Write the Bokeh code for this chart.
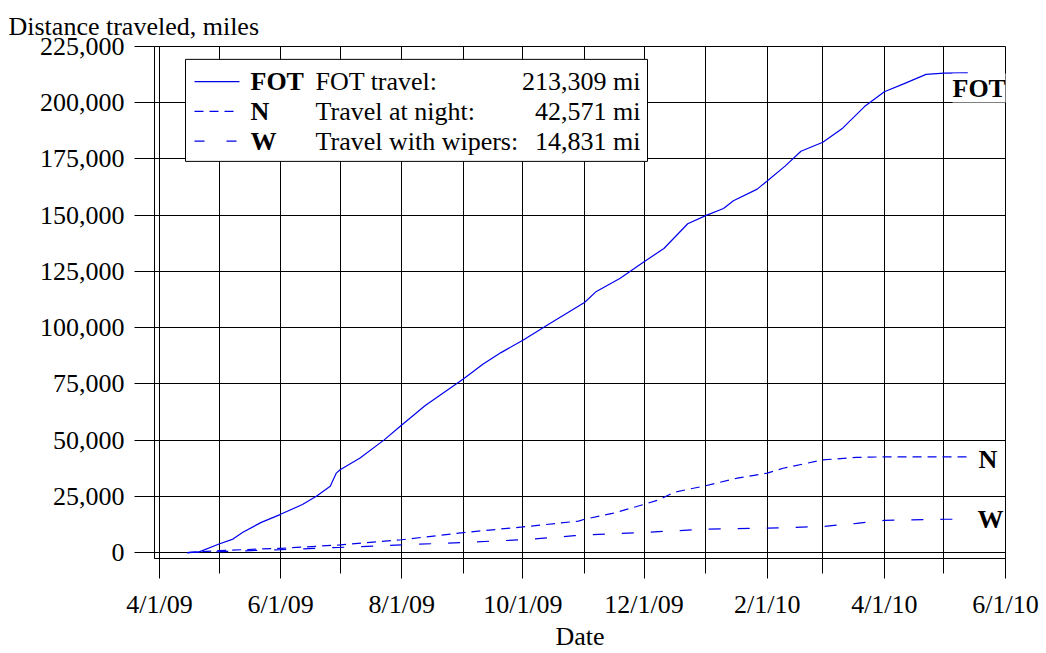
import pandas as pd
from bokeh.plotting import figure
from bokeh.models import FixedTicker, NumeralTickFormatter, Label, BoxAnnotation, Range1d
from bokeh.embed import file_html
from bokeh.resources import INLINE

# ---------------- data ----------------
fot_dates = ["2009-04-15", "2009-04-21", "2009-05-01", "2009-05-08", "2009-05-13", "2009-05-22",
             "2009-06-01", "2009-06-12", "2009-06-19", "2009-06-26", "2009-06-29", "2009-07-01",
             "2009-07-11", "2009-07-23", "2009-08-01", "2009-08-13", "2009-09-01", "2009-09-11",
             "2009-09-20", "2009-10-01", "2009-10-15", "2009-11-01", "2009-11-07", "2009-11-19",
             "2009-12-01", "2009-12-11", "2009-12-23", "2010-01-01", "2010-01-10", "2010-01-15",
             "2010-01-27", "2010-02-01", "2010-02-10", "2010-02-18", "2010-03-01", "2010-03-11",
             "2010-03-22", "2010-04-01", "2010-04-11", "2010-04-22", "2010-05-01", "2010-05-13"]
fot_miles = [0, 300, 3800, 6000, 9000, 13300,
             17000, 21400, 25000, 29500, 35300, 36800,
             42000, 50000, 56700, 65500, 77200, 83800,
             88900, 94400, 102100, 111200, 116100, 122000,
             129300, 135200, 146200, 149800, 153000, 156400,
             161600, 165200, 171800, 178400, 182400, 188700,
             198300, 204900, 208500, 212600, 213200, 213309]

night_dates = ["2009-04-15", "2009-05-01", "2009-06-01", "2009-07-01", "2009-08-01", "2009-09-01",
               "2009-10-01", "2009-10-29", "2009-11-01", "2009-11-15", "2009-12-01", "2009-12-09",
               "2009-12-16", "2010-01-01", "2010-01-17", "2010-02-01", "2010-02-09", "2010-03-01",
               "2010-03-18", "2010-04-01", "2010-05-13"]
night_miles = [0, 900, 1900, 3400, 5700, 8900,
               11400, 14000, 14800, 17400, 21400, 23600,
               26800, 29700, 33100, 35300, 37500, 41200,
               42300, 42550, 42571]

wiper_dates = ["2009-04-15", "2009-05-01", "2009-06-01", "2009-07-01", "2009-08-01", "2009-09-01",
               "2009-10-01", "2009-10-27", "2009-11-01", "2009-12-01", "2010-01-01", "2010-02-01",
               "2010-03-01", "2010-03-18", "2010-04-01", "2010-05-01", "2010-05-13"]
wiper_miles = [0, 400, 1300, 2300, 3400, 4500,
               5700, 7500, 7800, 8950, 10400, 10850,
               11600, 13000, 14300, 14800, 14831]

major_tick_dates = ["2009-04-01", "2009-06-01", "2009-08-01", "2009-10-01",
                    "2009-12-01", "2010-02-01", "2010-04-01", "2010-06-01"]
major_tick_labels = ["4/1/09", "6/1/09", "8/1/09", "10/1/09",
                     "12/1/09", "2/1/10", "4/1/10", "6/1/10"]
minor_tick_dates = ["2009-05-01", "2009-07-01", "2009-09-01", "2009-11-01",
                    "2010-01-01", "2010-03-01", "2010-05-01"]
y_ticks = [0, 25000, 50000, 75000, 100000, 125000, 150000, 175000, 200000, 225000]

legend_keys = ["FOT", "N", "W"]
legend_texts = ["FOT travel:", "Travel at night:", "Travel with wipers:"]
legend_values = ["213,309 mi", "42,571 mi", "14,831 mi"]

# ---------------- helpers ----------------
def ms(d):
    return pd.Timestamp(d).value / 1e6

X0 = ms("2009-03-29 12:00")
X1 = ms("2010-06-01")
Y0, Y1 = -2640, 225000
FL, FR, FT, FB = 154, 1005, 46, 563  # frame in page pixels

def X(px):
    return X0 + (px - FL) * (X1 - X0) / (FR - FL)

def Y(py):
    return Y1 - (py - FT) * (Y1 - Y0) / (FB - FT)

FONT = "Liberation Serif"
FS = "26px"
BLUE = "#0000ee"
LW = 1.2

p = figure(width=1046, height=653, x_axis_type="datetime",
           x_range=Range1d(X0, X1), y_range=Range1d(Y0, Y1),
           output_backend="svg", toolbar_location=None,
           min_border_left=154, min_border_right=41, min_border_top=46, min_border_bottom=90)
p.background_fill_color = "white"
p.border_fill_color = "white"
p.outline_line_color = "black"
p.outline_line_width = 1

# title (y-axis caption at top-left)
p.title.text = "Distance traveled, miles"
p.title.text_font = FONT
p.title.text_font_size = FS
p.title.text_font_style = "normal"
p.title.text_color = "black"
p.title.align = "left"
p.title.vertical_align = "top"
p.title.text_line_height = 0.5
p.title.offset = -146
p.title.standoff = 8

# axes
xa = p.xaxis[0]
xa.ticker = FixedTicker(ticks=[ms(d) for d in major_tick_dates],
                        minor_ticks=[ms(d) for d in minor_tick_dates])
xa.major_label_overrides = {int(ms(d)): lab for d, lab in zip(major_tick_dates, major_tick_labels)}
xa.major_tick_in = 0
xa.major_tick_out = 20
xa.minor_tick_in = 0
xa.minor_tick_out = 15
xa.major_label_standoff = 11
xa.major_label_text_font = FONT
xa.major_label_text_font_size = FS
xa.major_label_text_color = "black"
xa.axis_line_color = "black"
xa.major_tick_line_color = "black"
xa.minor_tick_line_color = "black"
xa.axis_label = "Date"
xa.axis_label_text_font = FONT
xa.axis_label_text_font_size = FS
xa.axis_label_text_font_style = "normal"
xa.axis_label_text_color = "black"
xa.axis_label_standoff = 0

ya = p.yaxis[0]
ya.ticker = FixedTicker(ticks=y_ticks)
ya.formatter = NumeralTickFormatter(format="0,0")
ya.major_tick_in = 0
ya.major_tick_out = 20
ya.minor_tick_line_color = None
ya.major_label_standoff = 10
ya.major_label_text_font = FONT
ya.major_label_text_font_size = FS
ya.major_label_text_color = "black"
ya.axis_line_color = "black"
ya.major_tick_line_color = "black"

# grid
p.xgrid.ticker = FixedTicker(ticks=sorted([ms(d) for d in major_tick_dates + minor_tick_dates]))
p.xgrid.grid_line_color = "black"
p.xgrid.grid_line_width = 1
p.ygrid.ticker = FixedTicker(ticks=y_ticks)
p.ygrid.grid_line_color = "black"
p.ygrid.grid_line_width = 1

# data lines
p.line(pd.to_datetime(fot_dates), fot_miles, line_color=BLUE, line_width=LW)
p.line(pd.to_datetime(night_dates), night_miles, line_color=BLUE, line_width=LW, line_dash="9 6")
p.line(pd.to_datetime(wiper_dates), wiper_miles, line_color=BLUE, line_width=LW, line_dash="12 17")

# legend box
p.add_layout(BoxAnnotation(left=X(185), right=X(647), top=Y(59), bottom=Y(162),
                           fill_color="white", fill_alpha=1.0,
                           line_color="black", line_width=1, line_alpha=1.0))
dashes = ["solid", "9 6", "10 22"]
row_y = [81.5, 111.5, 141.5]
for key, txt, val, dash, ry in zip(legend_keys, legend_texts, legend_values, dashes, row_y):
    p.line([X(194), X(239)], [Y(ry), Y(ry)], line_color=BLUE, line_width=LW,
           line_dash=dash, level="overlay")
    p.add_layout(Label(x=X(250), y=Y(ry), text=key, text_font=FONT, text_font_size=FS,
                       text_font_style="bold", text_color="black", text_baseline="middle",
                       text_align="left", level="overlay"))
    p.add_layout(Label(x=X(315), y=Y(ry), text=txt, text_font=FONT, text_font_size=FS,
                       text_color="black", text_baseline="middle", text_align="left",
                       level="overlay"))
    p.add_layout(Label(x=X(640), y=Y(ry), text=val, text_font=FONT, text_font_size=FS,
                       text_color="black", text_baseline="middle", text_align="right",
                       level="overlay"))

# end-of-line labels
p.add_layout(Label(x=X(952), y=Y(88), text="FOT", text_font=FONT, text_font_size=FS,
                   text_font_style="bold", text_color="black", text_baseline="middle",
                   text_align="left", background_fill_color="white",
                   background_fill_alpha=1.0, level="overlay"))
p.add_layout(Label(x=X(978), y=Y(463), text="N", text_font=FONT, text_font_size=FS,
                   text_font_style="bold", text_color="black", text_baseline="middle",
                   text_align="left", level="overlay"))
p.add_layout(Label(x=X(977), y=Y(524), text="W", text_font=FONT, text_font_size=FS,
                   text_font_style="bold", text_color="black", text_baseline="middle",
                   text_align="left", level="overlay"))

open("out.html", "w").write(file_html(p, INLINE))
